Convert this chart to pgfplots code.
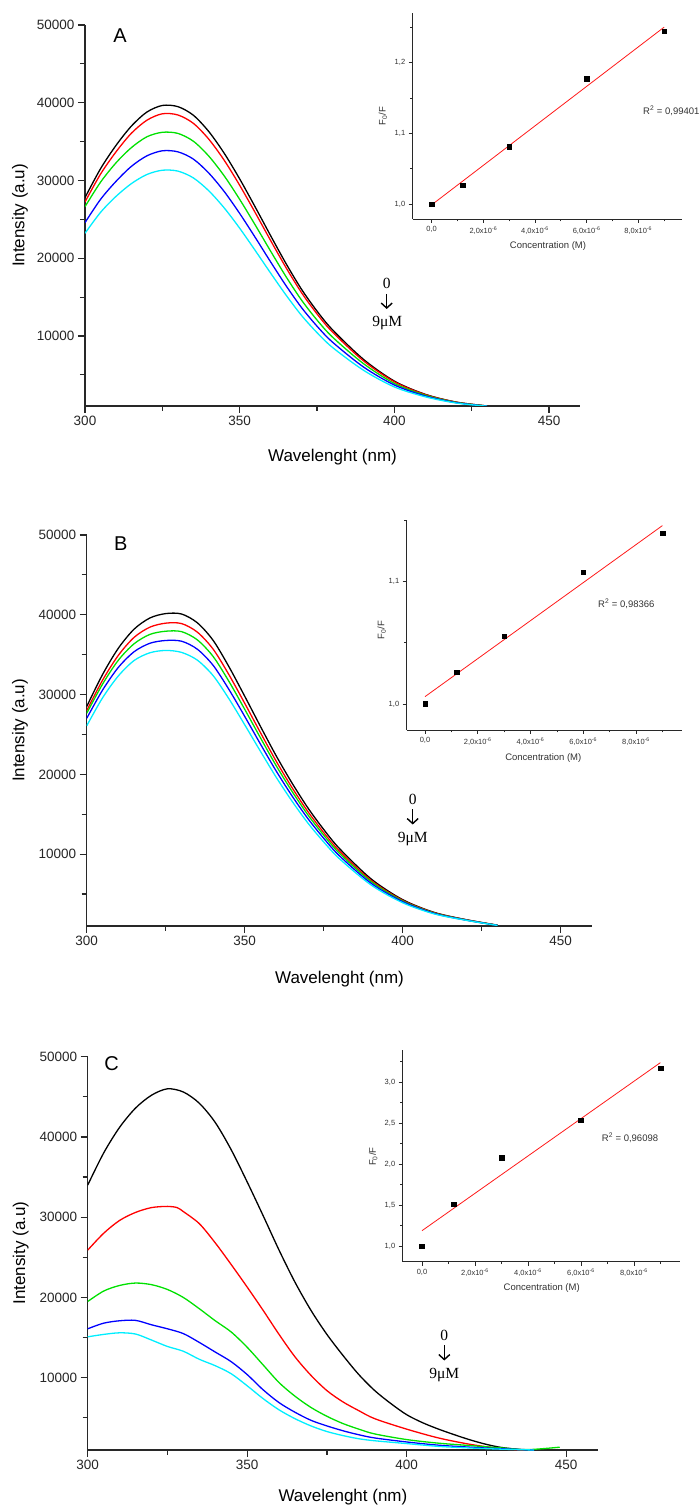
\documentclass[border=0pt]{standalone}
\usepackage{pgfplots}
\pgfplotsset{compat=1.18}
\usetikzlibrary{arrows.meta}
\usepackage{fontspec}
\setmainfont{Liberation Sans}
\newfontfamily\timesf{Liberation Serif}
\definecolor{cgreen}{RGB}{0,225,0}
\definecolor{ccyan}{RGB}{0,238,255}
\definecolor{axgray}{RGB}{40,40,40}
\pgfplotsset{
  mainax/.style={
    scale only axis, axis lines=left, axis line style={-, line width=1.3pt, color=axgray},
    xmin=300, xmax=460, ymin=1000, ymax=50000,
    xtick={300,350,400,450}, minor xtick={325,375,425},
    ytick={10000,20000,30000,40000,50000}, minor ytick={5000,15000,25000,35000,45000},
    scaled x ticks=false, scaled y ticks=false,
    tick align=outside, major tick length=7pt, minor tick length=5pt,
    tick style={line width=1.2pt, color=axgray},
    ticklabel style={font=\fontsize{13.5}{15}\selectfont, text=black!85},
    /pgf/number format/1000 sep={}, /pgf/number format/assume math mode=true,
    anchor=south west,
    every axis plot/.append style={line width=1.3pt, smooth, no marks},
  },
  inset/.style={
    scale only axis, axis lines=left, axis line style={-, line width=0.9pt, color=axgray},
    tick align=outside, major tick length=4pt, minor tick length=2.5pt,
    tick style={line width=0.8pt, color=axgray},
    ticklabel style={font=\fontsize{7.5}{8}\selectfont, text=black!80},
    scaled x ticks=false, scaled y ticks=false,
    xtick={0,2e-6,4e-6,6e-6,8e-6}, minor xtick={1e-6,3e-6,5e-6,7e-6,9e-6},
    xticklabels={{0,0},{2,0x10\textsuperscript{-6}},{4,0x10\textsuperscript{-6}},{6,0x10\textsuperscript{-6}},{8,0x10\textsuperscript{-6}}},
    yticklabel style={/pgf/number format/.cd, use comma, fixed, fixed zerofill, precision=1},
    /pgf/number format/assume math mode=true,
    clip=false, anchor=south west,
  },
  fitline/.style={red!90, line width=0.8pt},
  pts/.style={only marks, mark=square*, mark size=2.3pt, black},
}
\tikzset{downarr/.style={line width=1.4pt, -{Straight Barb[length=5pt,width=11pt,line width=1.4pt]}}}
\begin{document}
\begin{tikzpicture}[x=1pt,y=1pt]
\useasboundingbox (0,0) rectangle (700,1507);

% ===================== Panel A =====================
\begin{axis}[mainax, at={(85pt,1101pt)}, width=495pt, height=381pt]
\addplot[black] coordinates {(300,27800)(305,31500)(310,34500)(315,37000)(320,38800)(325,39650)(330,39500)(335,38400)(340,36300)(345,33500)(350,30200)(355,26600)(360,22900)(365,19300)(370,16000)(375,13200)(380,10800)(390,7000)(400,4200)(410,2500)(420,1500)(430,1000)};
\addplot[red] coordinates {(300,27240)(305,30810)(310,33670)(315,36080)(320,37750)(325,38580)(330,38430)(335,37360)(340,35320)(345,32600)(350,29380)(355,25880)(360,22280)(365,18780)(370,15570)(375,12840)(380,10510)(390,6810)(400,4110)(410,2460)(420,1490)(430,1000)};
\addplot[cgreen] coordinates {(300,26630)(305,29770)(310,32260)(315,34230)(320,35620)(325,36200)(330,36060)(335,35060)(340,33140)(345,30590)(350,27570)(355,24290)(360,20910)(365,17620)(370,14610)(375,12050)(380,9860)(390,6450)(400,3900)(410,2380)(420,1460)(430,990)};
\addplot[blue] coordinates {(300,24580)(305,27560)(310,29880)(315,31820)(320,33170)(325,33820)(330,33690)(335,32760)(340,30960)(345,28580)(350,25760)(355,22690)(360,19530)(365,16460)(370,13650)(375,11260)(380,9210)(390,6020)(400,3700)(410,2280)(420,1420)(430,980)};
\addplot[ccyan] coordinates {(300,23210)(305,25890)(310,27950)(315,29600)(320,30770)(325,31320)(330,31210)(335,30340)(340,28680)(345,26470)(350,23860)(355,21010)(360,18090)(365,15250)(370,12640)(375,10430)(380,8530)(390,5600)(400,3450)(410,2180)(420,1380)(430,970)};
\end{axis}
\node[font=\fontsize{17}{20}\selectfont, rotate=90] at (20,1291.5) {Intensity (a.u)};
\node[font=\fontsize{17}{20}\selectfont] at (332.5,1050.2) {Wavelenght (nm)};
\node[font=\fontsize{20}{22}\selectfont] at (120,1471.3) {A};
\node[font=\timesf\fontsize{15.5}{17}\selectfont] at (386.7,1223.7) {0};
\draw[downarr] (386.7,1213) -- (386.7,1198);
\node[font=\timesf\fontsize{15.5}{17}\selectfont] at (387.3,1184.3) {9μM};

\begin{axis}[inset, at={(412.7pt,1288pt)}, width=269pt, height=206pt,
  xmin=-0.735e-6, xmax=9.68e-6, ymin=0.979, ymax=1.270,
  ytick={1.0,1.1,1.2}, minor ytick={1.05,1.15,1.25}]
\addplot[fitline] coordinates {(0,0.999)(9e-6,1.250)};
\addplot[pts] coordinates {(0,1.000)(1.2e-6,1.027)(3e-6,1.081)(6e-6,1.177)(9e-6,1.244)};
\end{axis}
\node[font=\fontsize{9.5}{11}\selectfont, text=black!80] at (548,1261) {Concentration (M)};
\node[font=\fontsize{9.5}{11}\selectfont, text=black!80, rotate=90] at (383,1391) {F\textsubscript{0}/F};
\node[font=\fontsize{9.5}{11}\selectfont, text=black!80, anchor=west, inner sep=0pt] at (643,1396.3) {R\textsuperscript{2} = 0,99401};

% ===================== Panel B =====================
\begin{axis}[mainax, at={(86.7pt,581pt)}, width=505.6pt, height=391pt]
\addplot[black] coordinates {(300,28500)(305,32500)(310,35800)(315,38200)(320,39600)(325,40150)(330,40100)(335,39000)(340,36800)(345,33500)(350,29800)(355,26000)(360,22300)(365,18900)(370,15800)(375,13100)(380,10700)(390,6900)(400,4300)(410,2700)(420,1800)(430,1100)};
\addplot[red] coordinates {(300,27990)(305,31790)(310,34910)(315,37170)(320,38450)(325,38950)(330,38900)(335,37830)(340,35700)(345,32500)(350,28910)(355,25220)(360,21630)(365,18330)(370,15330)(375,12710)(380,10380)(390,6710)(400,4210)(410,2660)(420,1780)(430,1100)};
\addplot[cgreen] coordinates {(300,27650)(305,31300)(310,34300)(315,36370)(320,37540)(325,37940)(330,37890)(335,36860)(340,34780)(345,31660)(350,28160)(355,24570)(360,21070)(365,17860)(370,14930)(375,12380)(380,10110)(390,6560)(400,4130)(410,2620)(420,1760)(430,1090)};
\addplot[blue] coordinates {(300,27020)(305,30550)(310,33400)(315,35370)(320,36430)(325,36780)(330,36690)(335,35690)(340,33670)(345,30650)(350,27270)(355,23790)(360,20400)(365,17290)(370,14460)(375,11990)(380,9790)(390,6350)(400,4040)(410,2570)(420,1740)(430,1080)};
\addplot[ccyan] coordinates {(300,26080)(305,29580)(310,32330)(315,34270)(320,35240)(325,35530)(330,35290)(335,34320)(340,32380)(345,29480)(350,26220)(355,22880)(360,19620)(365,16630)(370,13900)(375,11530)(380,9420)(390,6140)(400,3910)(410,2510)(420,1720)(430,1070)};
\end{axis}
\node[font=\fontsize{17}{20}\selectfont, rotate=90] at (20,776.5) {Intensity (a.u)};
\node[font=\fontsize{17}{20}\selectfont] at (339.5,528) {Wavelenght (nm)};
\node[font=\fontsize{20}{22}\selectfont] at (120.7,963.7) {B};
\node[font=\timesf\fontsize{15.5}{17}\selectfont] at (412.7,708) {0};
\draw[downarr] (412.7,697.5) -- (412.7,682.5);
\node[font=\timesf\fontsize{15.5}{17}\selectfont] at (412.7,667.7) {9μM};

\begin{axis}[inset, at={(406.7pt,777pt)}, width=275pt, height=209.3pt,
  xmin=-0.694e-6, xmax=9.73e-6, ymin=0.9787, ymax=1.15,
  ytick={1.0,1.1}, minor ytick={1.05,1.15}]
\addplot[fitline] coordinates {(0,1.006)(9e-6,1.146)};
\addplot[pts] coordinates {(0,1.000)(1.2e-6,1.026)(3e-6,1.0556)(6e-6,1.1077)(9e-6,1.1396)};
\end{axis}
\node[font=\fontsize{9.5}{11}\selectfont, text=black!80] at (543.3,749.3) {Concentration (M)};
\node[font=\fontsize{9.5}{11}\selectfont, text=black!80, rotate=90] at (381.7,877) {F\textsubscript{0}/F};
\node[font=\fontsize{9.5}{11}\selectfont, text=black!80, anchor=west, inner sep=0pt] at (598,903) {R\textsuperscript{2} = 0,98366};

% ===================== Panel C =====================
\begin{axis}[mainax, at={(87.7pt,57pt)}, width=510.3pt, height=393.3pt]
\addplot[black] coordinates {(300,34000)(305,38000)(310,41200)(315,43600)(320,45200)(325,46000)(330,45600)(335,44200)(340,41800)(345,38400)(350,34400)(355,30200)(360,25900)(365,21900)(370,18400)(375,15400)(380,12800)(385,10400)(390,8400)(395,6800)(400,5400)(405,4400)(410,3600)(415,2900)(420,2250)(425,1700)(430,1300)(437,1000)};
\addplot[red] coordinates {(300,25900)(305,28000)(310,29600)(315,30600)(320,31200)(325,31350)(328,31200)(330,30700)(335,29200)(340,26800)(345,24100)(350,21300)(355,18400)(360,15400)(365,12600)(370,10300)(375,8400)(380,7000)(385,5900)(390,4900)(400,3600)(410,2500)(420,1700)(430,1150)(437,1000)};
\addplot[cgreen] coordinates {(300,19500)(305,20800)(310,21500)(315,21800)(320,21600)(325,21000)(330,20000)(335,18600)(340,17100)(345,15700)(350,13800)(355,11600)(360,9400)(365,7700)(370,6300)(375,5200)(380,4300)(385,3600)(390,3000)(400,2300)(410,1850)(420,1550)(430,1250)(438,1050)(448,1350)};
\addplot[blue] coordinates {(300,16100)(305,16800)(310,17100)(315,17150)(320,16600)(325,16100)(330,15500)(335,14400)(340,13200)(345,12000)(350,10400)(355,8500)(360,6900)(365,5700)(370,4700)(375,4000)(380,3400)(385,2900)(390,2500)(400,2000)(410,1600)(420,1350)(430,1150)(440,1000)};
\addplot[ccyan] coordinates {(300,15100)(305,15400)(310,15600)(315,15450)(320,14700)(325,13900)(330,13300)(335,12300)(340,11500)(345,10500)(350,9000)(355,7400)(360,6000)(365,4900)(370,4000)(375,3300)(380,2800)(385,2400)(390,2150)(400,1800)(410,1450)(420,1250)(430,1100)(440,1000)};
\end{axis}
\node[font=\fontsize{17}{20}\selectfont, rotate=90] at (20.7,254) {Intensity (a.u)};
\node[font=\fontsize{17}{20}\selectfont] at (342.9,10) {Wavelenght (nm)};
\node[font=\fontsize{20}{22}\selectfont] at (111.7,443.7) {C};
\node[font=\timesf\fontsize{15.5}{17}\selectfont] at (444.3,172) {0};
\draw[downarr] (444.3,161.5) -- (444.3,146.5);
\node[font=\timesf\fontsize{15.5}{17}\selectfont] at (444.3,132) {9μM};

\begin{axis}[inset, at={(402.7pt,245.3pt)}, width=277.3pt, height=211.7pt,
  xmin=-0.728e-6, xmax=9.74e-6, ymin=0.809, ymax=3.39,
  ytick={1.0,1.5,2.0,2.5,3.0}, minor ytick={1.25,1.75,2.25,2.75,3.25}]
\addplot[fitline] coordinates {(0,1.187)(9e-6,3.236)};
\addplot[pts] coordinates {(0,1.000)(1.2e-6,1.508)(3e-6,2.077)(6e-6,2.532)(9e-6,3.167)};
\end{axis}
\node[font=\fontsize{9.5}{11}\selectfont, text=black!80] at (541.7,218.7) {Concentration (M)};
\node[font=\fontsize{9.5}{11}\selectfont, text=black!80, rotate=90] at (373.3,350.3) {F\textsubscript{0}/F};
\node[font=\fontsize{9.5}{11}\selectfont, text=black!80, anchor=west, inner sep=0pt] at (601.7,369.3) {R\textsuperscript{2} = 0,96098};
\end{tikzpicture}
\end{document}
